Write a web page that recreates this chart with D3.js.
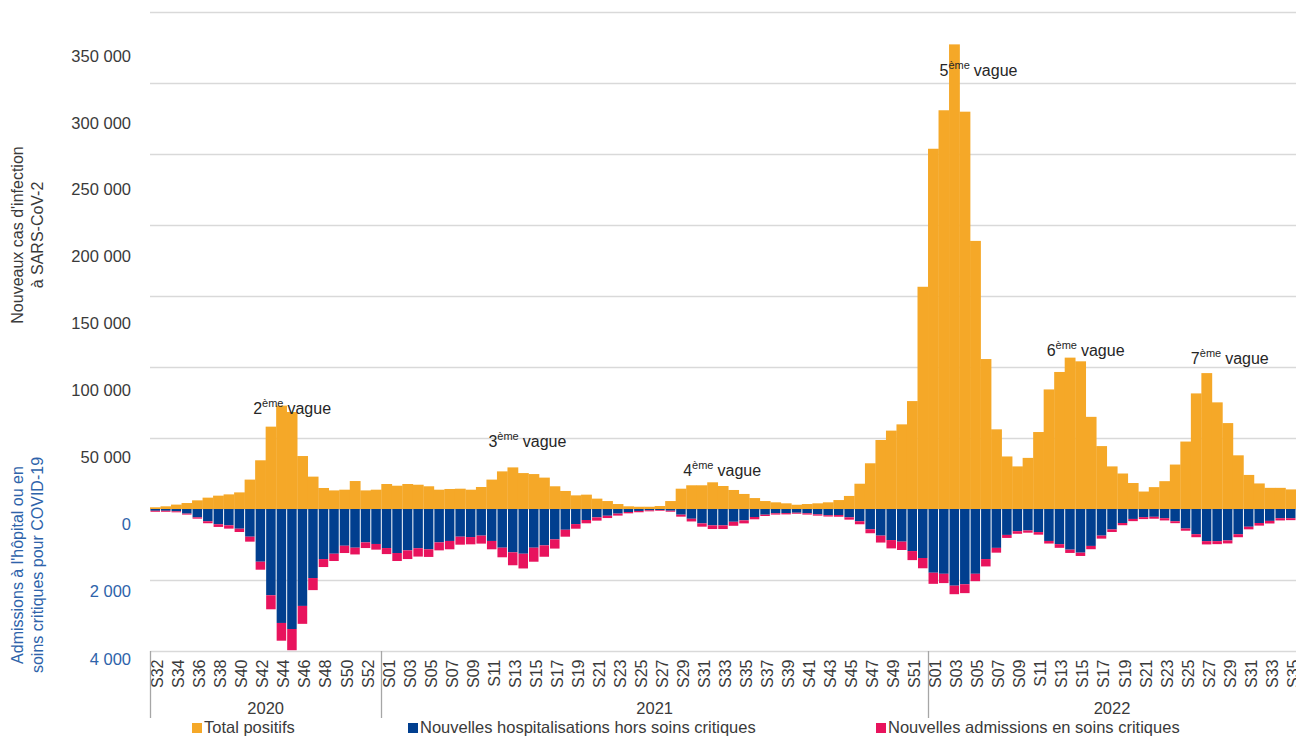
<!DOCTYPE html>
<html>
<head>
<meta charset="utf-8">
<script src="https://cdn.jsdelivr.net/npm/d3@7"></script>
<style>
  body { margin: 0; background: #fff; }
  text { font-family: "Liberation Sans", Arial, sans-serif; }
</style>
</head>
<body>
<div id="wrapper"></div>
<script>
// Weeks shown on the x axis, per year
const years = [
  { year: "2020", first: 32, last: 53 },
  { year: "2021", first: 1, last: 52 },
  { year: "2022", first: 1, last: 35 },
];

// Total positifs (new cases per week)
const positifs2020 = [1200, 1900, 3100, 4200, 6100, 8000, 9400, 10300, 11700, 20700, 34300,
  58000, 72800, 68300, 37300, 22800, 14800, 13100, 13600, 19700, 13100, 13600];
const positifs2021 = [17600, 16400, 17600, 17100, 16000, 13600, 14100, 14300, 13600, 15500,
  20700, 26500, 29300, 25300, 24600, 22100, 16000, 12700, 9600, 10100, 7300, 5600, 3500, 1900,
  1600, 1600, 2100, 5600, 14300, 16700, 16700, 18800, 16200, 13400, 10600, 7700, 5600, 4700,
  4000, 3000, 3500, 4000, 4700, 6300, 9200, 17800, 32200, 48600, 55200, 59600, 76000, 156500];
const positifs2022 = [253700, 280800, 327200, 279800, 188800, 105600, 56100, 37000, 30000,
  36000, 54200, 84200, 96500, 106600, 104000, 64900, 44300, 30000, 25000, 18300, 12300, 15400,
  19600, 31300, 47500, 81400, 95700, 75100, 60500, 37800, 24000, 18000, 14900, 14900, 13800];

// Nouvelles hospitalisations hors soins critiques
const hospit2020 = [50, 50, 65, 130, 235, 345, 430, 460, 555, 780, 1485, 2430, 3210, 3380,
  2730, 1945, 1410, 1260, 1035, 1090, 940, 985];
const hospit2021 = [1100, 1240, 1165, 1105, 1135, 940, 900, 780, 790, 750, 900, 1090, 1220,
  1260, 1090, 1025, 855, 585, 425, 310, 235, 190, 130, 85, 55, 37, 28, 48, 160, 275, 405, 460,
  460, 360, 320, 225, 160, 120, 115, 105, 120, 150, 175, 170, 235, 345, 570, 750, 875, 920,
  1185, 1380];
const hospit2022 = [1795, 1825, 2160, 2120, 1825, 1410, 1095, 730, 625, 605, 650, 900, 990,
  1145, 1230, 1040, 750, 575, 395, 280, 230, 220, 260, 345, 550, 710, 905, 905, 885, 710, 500,
  395, 335, 260, 260];

// Nouvelles admissions en soins critiques
const critiques2020 = [28, 28, 28, 28, 37, 56, 75, 93, 93, 140, 225, 395, 500, 600, 505, 340,
  225, 205, 205, 190, 160, 160];
const critiques2021 = [170, 225, 245, 235, 215, 225, 235, 225, 205, 225, 235, 270, 365, 415,
  395, 320, 260, 195, 130, 93, 93, 65, 56, 37, 37, 28, 20, 28, 56, 76, 93, 104, 104, 113, 85,
  65, 37, 37, 37, 28, 37, 37, 37, 48, 65, 85, 113, 195, 235, 235, 255, 290];
const critiques2022 = [313, 262, 240, 250, 208, 208, 135, 85, 73, 62, 73, 73, 104, 93, 93, 93,
  85, 73, 62, 62, 54, 54, 62, 54, 62, 85, 93, 85, 85, 85, 73, 73, 73, 62, 54];

// Wave annotations: anchor week + level (cases)
const waves = [
  { n: "2", week: "2020-S42", level: 67000, dx: -2 },
  { n: "3", week: "2021-S11", level: 43700, dx: 2 },
  { n: "4", week: "2021-S30", level: 23200, dx: -3 },
  { n: "5", week: "2022-S02", level: 304800, dx: 1 },
  { n: "6", week: "2022-S12", level: 107700, dx: 3 },
  { n: "7", week: "2022-S26", level: 102100, dx: 0 },
];

const positifs = { "2020": positifs2020, "2021": positifs2021, "2022": positifs2022 };
const hospit = { "2020": hospit2020, "2021": hospit2021, "2022": hospit2022 };
const critiques = { "2020": critiques2020, "2021": critiques2021, "2022": critiques2022 };

const data = years.flatMap(y => d3.range(y.first, y.last + 1).map((w, i) => ({
  key: `${y.year}-S${String(w).padStart(2, "0")}`,
  year: y.year,
  week: `S${String(w).padStart(2, "0")}`,
  odd: i % 2 === 0,
  cases: positifs[y.year][i],
  hosp: hospit[y.year][i],
  icu: critiques[y.year][i],
})));

// dimensions
const width = 1296, height = 736;
const plot = { left: 150, right: 1296, top: 12, bottom: 651 };

const colors = { cases: "#f5a828", hosp: "#013f8f", icu: "#e8135d", adm: "#2e63aa", text: "#3a3a3a" };

const svg = d3.select("#wrapper").append("svg")
    .attr("width", width)
    .attr("height", height);

// scales
const x = d3.scaleBand()
    .domain(data.map(d => d.key))
    .range([plot.left, plot.right])
    .padding(0);

const yCases = d3.scaleLinear()
    .domain([-100000, 350000])
    .range([plot.bottom, plot.top]);

const yAdm = d3.scaleLinear()
    .domain([4000, -14000])
    .range([plot.bottom, plot.top]);

// label positions of the printed axes (as placed on the original)
const yCasesLabel = d3.scaleLinear().domain([0, 350000]).range([524, 56]);
const yAdmLabel = d3.scaleLinear().domain([0, 4000]).range([524, 659]);

const fmt = d3.formatLocale({ thousands: " ", grouping: [3], decimal: ",", currency: ["", " €"] }).format(",");

// gridlines
svg.append("g")
  .selectAll("line")
  .data(d3.range(-50000, 350001, 50000))
  .join("line")
    .attr("x1", plot.left)
    .attr("x2", plot.right)
    .attr("y1", d => Math.round(yCases(d)) + 0.5)
    .attr("y2", d => Math.round(yCases(d)) + 0.5)
    .attr("stroke", "#d9d9d9")
    .attr("stroke-width", 1.3);

// bars
const bw = x.bandwidth();

svg.append("g")
  .selectAll("rect")
  .data(data)
  .join("rect")
    .attr("x", d => x(d.key))
    .attr("y", d => yCases(d.cases))
    .attr("width", bw + 0.3)
    .attr("height", d => yCases(0) - yCases(d.cases))
    .attr("fill", colors.cases);

const adm = svg.append("g");
adm.selectAll("rect.hosp")
  .data(data)
  .join("rect")
    .attr("class", "hosp")
    .attr("x", d => x(d.key) + 0.5)
    .attr("y", yAdm(0))
    .attr("width", bw - 1)
    .attr("height", d => yAdm(d.hosp) - yAdm(0))
    .attr("fill", colors.hosp);

adm.selectAll("rect.icu")
  .data(data)
  .join("rect")
    .attr("class", "icu")
    .attr("x", d => x(d.key) + 0.5)
    .attr("y", d => yAdm(d.hosp))
    .attr("width", bw - 1)
    .attr("height", d => yAdm(d.hosp + d.icu) - yAdm(d.hosp))
    .attr("fill", colors.icu);

// x axis
const xAxis = svg.append("g")
    .attr("transform", `translate(0, ${plot.bottom})`)
    .call(d3.axisBottom(x)
      .tickValues(data.filter(d => d.odd).map(d => d.key))
      .tickFormat(k => k.slice(5))
      .tickSize(0)
      .tickSizeOuter(0));

xAxis.select(".domain").attr("stroke", "#d9d9d9").attr("stroke-width", 1.3);
xAxis.selectAll("text")
    .attr("transform", "rotate(-90)")
    .attr("x", -8.5)
    .attr("y", 0)
    .attr("dy", "0.5em")
    .attr("text-anchor", "end")
    .attr("fill", colors.text)
    .style("font-size", "16px")
    .style("font-family", "'Liberation Sans', Arial, sans-serif");

// year groups
const yearGroups = years.map(y => {
  const keys = data.filter(d => d.year === y.year);
  const x0 = x(keys[0].key);
  const x1 = x(keys[keys.length - 1].key) + bw;
  return { year: y.year, x0, x1 };
});

svg.append("g")
  .selectAll("line")
  .data(yearGroups)
  .join("line")
    .attr("x1", d => Math.round(d.x0) + 0.5)
    .attr("x2", d => Math.round(d.x0) + 0.5)
    .attr("y1", plot.bottom)
    .attr("y2", 718)
    .attr("stroke", "#a6a6a6")
    .attr("stroke-width", 1.3);

svg.append("g")
  .selectAll("text")
  .data(yearGroups)
  .join("text")
    .attr("x", d => (d.x0 + d.x1) / 2)
    .attr("y", 714)
    .attr("text-anchor", "middle")
    .attr("fill", colors.text)
    .style("font-size", "16.5px")
    .text(d => d.year);

// y axes (labels only)
const leftAxis = svg.append("g")
    .attr("transform", "translate(131, 0)")
    .call(d3.axisLeft(yCasesLabel)
      .tickValues(d3.range(50000, 350001, 50000))
      .tickFormat(fmt)
      .tickSize(0)
      .tickPadding(0));
leftAxis.select(".domain").remove();
leftAxis.selectAll("text")
    .attr("fill", colors.text)
    .style("font-size", "16.5px")
    .style("font-family", "'Liberation Sans', Arial, sans-serif");

const admAxis = svg.append("g")
    .attr("transform", "translate(131, 0)")
    .call(d3.axisLeft(yAdmLabel)
      .tickValues([0, 2000, 4000])
      .tickFormat(fmt)
      .tickSize(0)
      .tickPadding(0));
admAxis.select(".domain").remove();
admAxis.selectAll("text")
    .attr("fill", colors.adm)
    .style("font-size", "16.5px")
    .style("font-family", "'Liberation Sans', Arial, sans-serif");

// axis titles
const titles = [
  { lines: ["Nouveaux cas d'infection", "à SARS-CoV-2"], cy: 235, color: colors.text },
  { lines: ["Admissions à l'hôpital ou en", "soins critiques pour COVID-19"], cy: 565, color: colors.adm },
];
titles.forEach(t => {
  svg.append("text")
      .attr("transform", `translate(23, ${t.cy}) rotate(-90)`)
      .attr("text-anchor", "middle")
      .attr("fill", t.color)
      .style("font-size", "16px")
    .selectAll("tspan")
    .data(t.lines)
    .join("tspan")
      .attr("x", 0)
      .attr("dy", (d, i) => i === 0 ? 0 : 19.5)
      .text(d => d);
});

// wave annotations
const waveText = svg.append("g")
  .selectAll("text")
  .data(waves)
  .join("text")
    .attr("x", d => x(d.week) + d.dx)
    .attr("y", d => yCases(d.level))
    .attr("fill", "#262626")
    .style("font-size", "16px");
waveText.append("tspan").text(d => d.n);
waveText.append("tspan")
    .attr("dy", -7)
    .style("font-size", "11px")
    .text("ème");
waveText.append("tspan")
    .attr("dy", 7)
    .attr("dx", 4)
    .text("vague");

// legend
const legend = [
  { label: "Total positifs", color: colors.cases, x: 192 },
  { label: "Nouvelles hospitalisations hors soins critiques", color: colors.hosp, x: 408 },
  { label: "Nouvelles admissions en soins critiques", color: colors.icu, x: 876 },
];
const lg = svg.append("g")
  .selectAll("g")
  .data(legend)
  .join("g")
    .attr("transform", d => `translate(${d.x}, 723)`);
lg.append("rect")
    .attr("width", 10)
    .attr("height", 10)
    .attr("fill", d => d.color);
lg.append("text")
    .attr("x", 12)
    .attr("y", 10)
    .attr("fill", colors.text)
    .style("font-size", "16.5px")
    .text(d => d.label);
</script>
</body>
</html>
